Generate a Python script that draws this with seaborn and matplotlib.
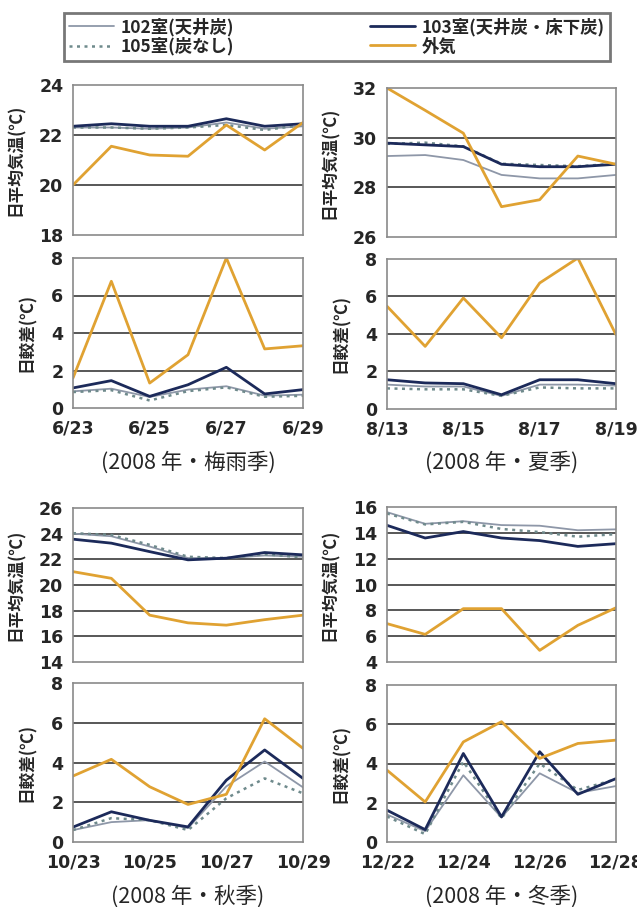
import seaborn as sns
import pandas as pd
import matplotlib.pyplot as plt

# ---- data ----
series_names = ["102室(天井炭)", "105室(炭なし)", "103室(天井炭・床下炭)", "外気"]

tsuyu_days = ["6/23", "6/24", "6/25", "6/26", "6/27", "6/28", "6/29"]
tsuyu_mean_102 = [22.30, 22.30, 22.25, 22.30, 22.50, 22.25, 22.35]
tsuyu_mean_105 = [22.30, 22.30, 22.25, 22.30, 22.40, 22.20, 22.40]
tsuyu_mean_103 = [22.35, 22.45, 22.35, 22.35, 22.65, 22.35, 22.45]
tsuyu_mean_out = [20.0, 21.55, 21.2, 21.15, 22.4, 21.4, 22.5]
tsuyu_range_102 = [0.89, 1.03, 0.59, 0.98, 1.16, 0.66, 0.71]
tsuyu_range_105 = [0.85, 0.95, 0.40, 0.90, 1.10, 0.60, 0.65]
tsuyu_range_103 = [1.07, 1.46, 0.62, 1.24, 2.17, 0.75, 0.98]
tsuyu_range_out = [1.6, 6.76, 1.33, 2.84, 8.0, 3.15, 3.32]

summer_days = ["8/13", "8/14", "8/15", "8/16", "8/17", "8/18", "8/19"]
summer_mean_102 = [29.26, 29.30, 29.10, 28.50, 28.36, 28.36, 28.50]
summer_mean_105 = [29.75, 29.80, 29.65, 28.95, 28.90, 28.85, 28.95]
summer_mean_103 = [29.78, 29.71, 29.64, 28.93, 28.83, 28.83, 28.93]
summer_mean_out = [32.0, 31.1, 30.18, 27.22, 27.5, 29.26, 28.93]
summer_range_102 = [1.30, 1.20, 1.20, 0.70, 1.30, 1.30, 1.25]
summer_range_105 = [1.10, 1.05, 1.05, 0.70, 1.15, 1.10, 1.10]
summer_range_103 = [1.56, 1.39, 1.35, 0.76, 1.56, 1.56, 1.35]
summer_range_out = [5.48, 3.34, 5.92, 3.80, 6.72, 8.05, 3.96]

autumn_days = ["10/23", "10/24", "10/25", "10/26", "10/27", "10/28", "10/29"]
autumn_mean_102 = [24.0, 23.8, 23.0, 22.1, 22.1, 22.3, 22.2]
autumn_mean_105 = [24.04, 23.9, 23.13, 22.2, 22.1, 22.4, 22.15]
autumn_mean_103 = [23.57, 23.26, 22.6, 21.96, 22.09, 22.53, 22.35]
autumn_mean_out = [21.04, 20.52, 17.65, 17.05, 16.87, 17.3, 17.65]
autumn_range_102 = [0.60, 1.00, 1.10, 0.70, 2.80, 4.05, 2.75]
autumn_range_105 = [0.60, 1.20, 1.10, 0.60, 2.20, 3.20, 2.45]
autumn_range_103 = [0.75, 1.52, 1.09, 0.76, 3.11, 4.63, 3.20]
autumn_range_out = [3.32, 4.16, 2.78, 1.89, 2.40, 6.20, 4.71]

winter_days = ["12/22", "12/23", "12/24", "12/25", "12/26", "12/27", "12/28"]
winter_mean_102 = [15.6, 14.7, 14.9, 14.6, 14.55, 14.2, 14.27]
winter_mean_105 = [15.5, 14.65, 14.85, 14.3, 14.06, 13.7, 13.9]
winter_mean_103 = [14.58, 13.6, 14.1, 13.6, 13.4, 12.95, 13.16]
winter_mean_out = [6.97, 6.14, 8.13, 8.13, 4.9, 6.84, 8.2]
winter_range_102 = [1.40, 0.55, 3.40, 1.25, 3.50, 2.50, 2.85]
winter_range_105 = [1.30, 0.40, 4.10, 1.20, 4.00, 2.65, 3.20]
winter_range_103 = [1.62, 0.63, 4.51, 1.28, 4.60, 2.43, 3.23]
winter_range_out = [3.66, 2.04, 5.10, 6.13, 4.26, 5.02, 5.19]

captions = ["(2008 年・梅雨季)", "(2008 年・夏季)", "(2008 年・秋季)", "(2008 年・冬季)"]

palette = {"102室(天井炭)": "#8e97a8", "105室(炭なし)": "#6f8a8c",
           "103室(天井炭・床下炭)": "#1c2a5a", "外気": "#e0a232"}
dashes = {"102室(天井炭)": "", "105室(炭なし)": (1.2, 1.8),
          "103室(天井炭・床下炭)": "", "外気": ""}
widths = {"102室(天井炭)": 1.3, "105室(炭なし)": 1.8,
          "103室(天井炭・床下炭)": 2.0, "外気": 2.0}

sns.set_theme(style="white")
plt.rcParams['font.family'] = ['Noto Sans CJK JP', 'DejaVu Sans']


def make_df(days, s102, s105, s103, sout):
    rows = []
    for name, vals in zip(series_names, [s102, s105, s103, sout]):
        for i, v in enumerate(vals):
            rows.append({"day": i, "value": v, "series": name})
    return pd.DataFrame(rows)


def draw_panel(ax, df, days, ylim, ystep, ylabel, show_x, label_x):
    sns.lineplot(data=df, x="day", y="value", hue="series", style="series",
                 palette=palette, dashes=dashes, ax=ax, legend=False)
    for line, name in zip(ax.get_lines(), series_names):
        line.set_linewidth(widths[name])
    ax.set_xlim(0, 6)
    ax.set_ylim(*ylim)
    ticks = list(range(ylim[0], ylim[1] + 1, ystep))
    ax.set_yticks(ticks)
    ax.set_yticklabels([str(t) for t in ticks], fontsize=12.5, fontweight="bold",
                       family=["DejaVu Sans"])
    ax.set_xticks([0, 2, 4, 6])
    if show_x:
        ax.set_xticklabels([days[i] for i in [0, 2, 4, 6]], fontsize=12.5,
                           fontweight="bold", family=["DejaVu Sans"])
    else:
        ax.set_xticklabels([])
    ax.tick_params(axis="x", direction="in", length=4, color="#888888", pad=8)
    ax.tick_params(axis="y", length=0, pad=7)
    for t in ticks[1:-1]:
        ax.axhline(t, color="#4a4a4a", lw=1.3, zorder=0)
    for sp in ax.spines.values():
        sp.set_color("#8a8a8a")
        sp.set_linewidth(1.2)
    ax.set_xlabel("")
    ax.set_ylabel(ylabel, fontsize=12, fontweight="bold")
    ax.yaxis.set_label_coords(label_x, 0.5)


fig = plt.figure(figsize=(6.37, 9.07), dpi=100)
W, H = 637.0, 907.0


def add_ax(left, top, right, bottom):
    return fig.add_axes([left / W, 1 - bottom / H, (right - left) / W, (bottom - top) / H])


panels = [
    (tsuyu_days, tsuyu_mean_102, tsuyu_mean_105, tsuyu_mean_103, tsuyu_mean_out,
     tsuyu_range_102, tsuyu_range_105, tsuyu_range_103, tsuyu_range_out,
     (18, 24), 2, 73, 303, (85, 235), (258, 408)),
    (summer_days, summer_mean_102, summer_mean_105, summer_mean_103, summer_mean_out,
     summer_range_102, summer_range_105, summer_range_103, summer_range_out,
     (26, 32), 2, 387, 616, (88, 237), (259, 409)),
    (autumn_days, autumn_mean_102, autumn_mean_105, autumn_mean_103, autumn_mean_out,
     autumn_range_102, autumn_range_105, autumn_range_103, autumn_range_out,
     (14, 26), 2, 73, 303, (508, 662), (683, 842)),
    (winter_days, winter_mean_102, winter_mean_105, winter_mean_103, winter_mean_out,
     winter_range_102, winter_range_105, winter_range_103, winter_range_out,
     (4, 16), 2, 387, 616, (507, 662), (685, 842)),
]

for k, p in enumerate(panels):
    days = p[0]
    mean_df = make_df(days, *p[1:5])
    range_df = make_df(days, *p[5:9])
    ylim, ystep, left, right, up, low = p[9:]
    ax_top = add_ax(left, up[0], right, up[1])
    ax_bot = add_ax(left, low[0], right, low[1])
    draw_panel(ax_top, mean_df, days, ylim, ystep, "日平均気温(℃)", False, -0.21)
    draw_panel(ax_bot, range_df, days, (0, 8), 2, "日較差(℃)", True, -0.16)
    cx = (left + right) / 2 / W
    cy = 1 - (463 if k < 2 else 897) / H
    fig.text(cx, cy, captions[k], ha="center", va="center", fontsize=15.5)

# legend
handles = [plt.Line2D([], [], color=palette[n], lw=widths[n],
                      dashes=dashes[n] if dashes[n] else (None, None)) for n in series_names]
leg = fig.legend(handles, series_names, ncol=2, loc="center",
                 bbox_to_anchor=(337 / W, 1 - 37 / H), frameon=True,
                 prop={"size": 12.5, "weight": "bold"}, handlelength=2.6,
                 columnspacing=7.8, labelspacing=0.05, borderpad=0.3,
                 handletextpad=0.4, fancybox=False, borderaxespad=0)
leg.get_frame().set_edgecolor("#555555")
leg.get_frame().set_linewidth(2)

fig.savefig("out.png", dpi=100)
